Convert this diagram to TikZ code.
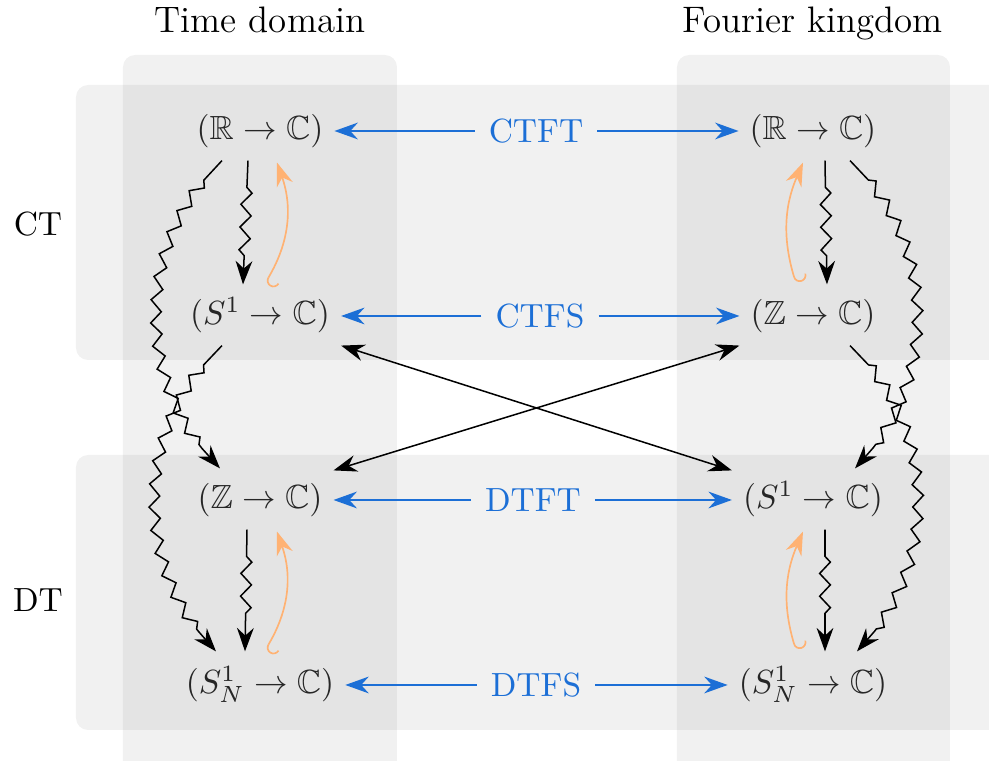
\documentclass[tikz,border=0pt]{standalone}
\usepackage{amsmath,amssymb}
\usetikzlibrary{arrows.meta,decorations.pathmorphing,calc}
\definecolor{tblue}{RGB}{28,111,214}
\definecolor{torange}{RGB}{255,178,115}
\begin{document}
\begin{tikzpicture}[x=0.2985pt,y=-0.2985pt,
  mnode/.style={text height=8pt,text depth=3pt,inner sep=3.33pt,outer sep=0pt,text=black!85},
  lab/.style={text=tblue,inner sep=4pt},
  head/.style={anchor=base,font=\fontsize{11}{13}\selectfont},
  rowlab/.style={anchor=base},
  band/.style={fill=black,fill opacity=0.055,rounded corners=3.6pt},
  zz/.style={draw,line width=0.45pt,decorate,decoration={zigzag,segment length=6.8pt,amplitude=1.6pt,pre length=8pt,post length=8pt},-{Stealth[length=7pt,width=5pt]}},
  blu/.style={draw=tblue,line width=0.6pt,-{Stealth[length=7pt,width=5pt]}},
  cross/.style={draw,line width=0.45pt,{Stealth[length=7pt,width=5pt]}-{Stealth[length=7pt,width=5pt]}},
  hk/.style={draw=torange,line width=0.5pt,{Hooks[left,length=2pt]}-{Stealth[length=7pt,width=5pt]}}]
\clip (0,0) rectangle (989,761);
% background bands
\path[band] (123,55) rectangle (397,800);
\path[band] (677,55) rectangle (950,800);
\path[band] (76,85) rectangle (1040,360);
\path[band] (76,455) rectangle (1040,730);
% headers
\node[head] (h1) at (260,33) {Time domain};
\node[head] (h2) at (813,33) {Fourier kingdom};
\node[rowlab] (ct) at (38,236) {CT};
\node[rowlab] (dt) at (38,612) {DT};
% nodes
\node[mnode] (tR) at (260,131) {$(\mathbb{R}\to\mathbb{C})$};
\node[mnode] (tS) at (260,316) {$(S^1\to\mathbb{C})$};
\node[mnode] (tZ) at (260,500) {$(\mathbb{Z}\to\mathbb{C})$};
\node[mnode] (tN) at (260,685) {$(S^1_N\to\mathbb{C})$};
\node[mnode] (fR) at (813,131) {$(\mathbb{R}\to\mathbb{C})$};
\node[mnode] (fZ) at (813,316) {$(\mathbb{Z}\to\mathbb{C})$};
\node[mnode] (fS) at (813,500) {$(S^1\to\mathbb{C})$};
\node[mnode] (fN) at (813,685) {$(S^1_N\to\mathbb{C})$};
% blue labels
\node[lab] (l1) at (536,131) {CTFT};
\node[lab] (l2) at (540,316) {CTFS};
\node[lab] (l3) at (533,500) {DTFT};
\node[lab] (l4) at (536,685) {DTFS};
\draw[blu] (l1) -- (tR); \draw[blu] (l1) -- (fR);
\draw[blu] (l2) -- (tS); \draw[blu] (l2) -- (fZ);
\draw[blu] (l3) -- (tZ); \draw[blu] (l3) -- (fS);
\draw[blu] (l4) -- (tN); \draw[blu] (l4) -- (fN);
% crossing arrows
\draw[cross] (tS.south east) -- (fS.north west);
\draw[cross] (tZ.north east) -- (fZ.south west);
% left column
\draw[zz] ($(tR.south)+(-12,0)$) -- ($(tS.north)+(-17,-2)$);
\draw[zz] ($(tR.south)+(-38,0)$) to[bend right=46] ($(tZ.north)+(-40,-2)$);
\draw[zz] ($(tS.south)+(-38,0)$) to[bend right=46] ($(tN.north)+(-44,-4)$);
\draw[zz] ($(tZ.south)+(-13,0)$) -- ($(tN.north)+(-15,-4)$);
\draw[hk] ($(tS.north)+(5,-3)$) to[bend right=25] ($(tR.south)+(17,2)$);
\draw[hk] ($(tN.north)+(5,-5)$) to[bend right=25] ($(tZ.south)+(17,2)$);
% right column
\draw[zz] ($(fR.south)+(12,0)$) -- ($(fZ.north)+(14,-2)$);
\draw[zz] ($(fR.south)+(37,0)$) to[bend left=46] ($(fS.north)+(42,-2)$);
\draw[zz] ($(fZ.south)+(37,0)$) to[bend left=46] ($(fN.north)+(44,-4)$);
\draw[zz] ($(fS.south)+(12,0)$) -- ($(fN.north)+(12,-4)$);
\draw[hk] ($(fZ.north)+(-17,-3)$) to[bend left=20] ($(fR.south)+(-10,2)$);
\draw[hk] ($(fN.north)+(-17,-5)$) to[bend left=20] ($(fS.south)+(-10,2)$);
\end{tikzpicture}
\end{document}
